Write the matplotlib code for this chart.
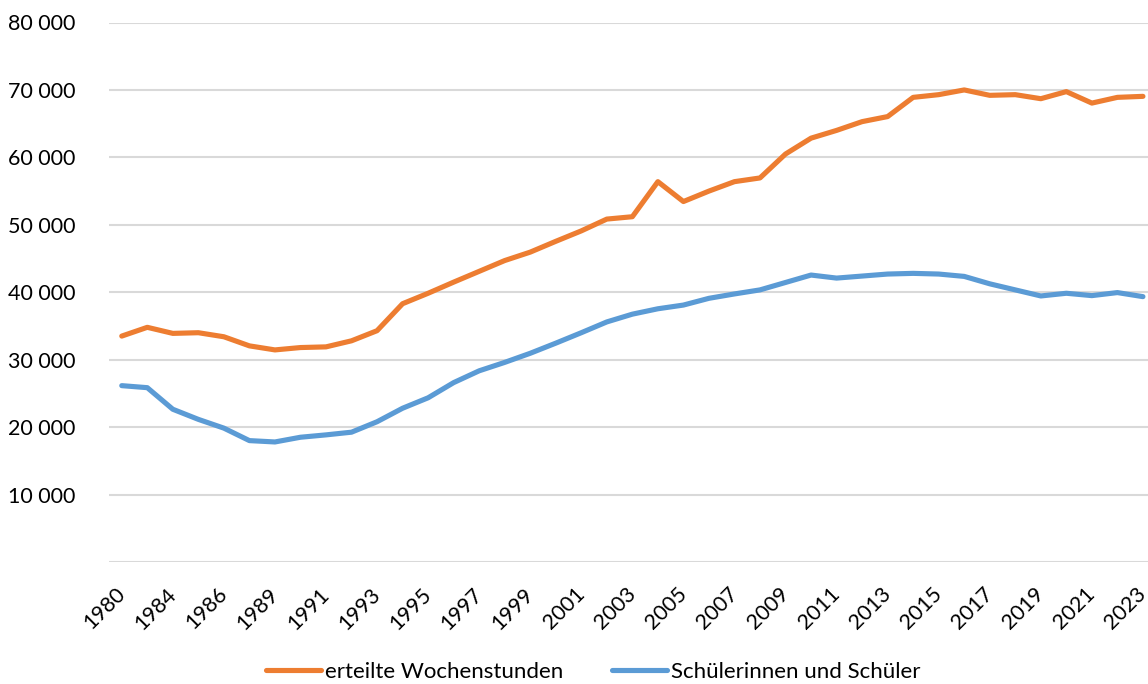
"""
Evolution des Wochenstunden und der Schuelerzahl, 1980-2023.
Liniendiagramm mit zwei Reihen, Legende unten.
"""
import matplotlib
matplotlib.use("Agg")
import matplotlib.pyplot as plt
import matplotlib.transforms as mtransforms
from matplotlib.ticker import FuncFormatter

plt.rcParams["font.family"] = ["Lato", "DejaVu Sans"]

# Jahre (Kategorien der x-Achse)
jahre = ["1980", "1982", "1984", "1985", "1986", "1988"] + [str(j) for j in range(1989, 2024)]

wochenstunden = [
    33500, 34800, 33900, 34000, 33400, 32050, 31450, 31800, 31900, 32800,
    34300, 38300, 39850, 41500, 43100, 44700, 45950, 47550, 49100, 50850,
    51200, 56400, 53450, 55000, 56400, 56950, 60500, 62850, 64000, 65300,
    66050, 68900, 69300, 70000, 69200, 69300, 68700, 69750, 68050, 68900,
    69050,
]

schueler = [
    26150, 25850, 22650, 21150, 19850, 18000, 17800, 18500, 18850, 19250,
    20800, 22800, 24350, 26600, 28350, 29600, 30950, 32450, 34000, 35600,
    36750, 37550, 38100, 39100, 39750, 40350, 41450, 42550, 42100, 42400,
    42700, 42800, 42700, 42350, 41250, 40350, 39450, 39850, 39500, 39950,
    39350,
]

ORANGE = "#ED7D31"
BLEU = "#5B9BD5"

fig = plt.figure(figsize=(11.48, 6.84), dpi=100)
# l'axe depasse un peu a droite, comme dans l'export d'origine
ax = fig.add_axes([109 / 1148, (684 - 562) / 684, (1155.7 - 109) / 1148, (562 - 22.5) / 684])

x = range(len(jahre))
ax.plot(x, wochenstunden, color=ORANGE, lw=3.7, solid_capstyle="round",
        solid_joinstyle="round", label="erteilte Wochenstunden", zorder=3)
ax.plot(x, schueler, color=BLEU, lw=3.7, solid_capstyle="round",
        solid_joinstyle="round", label="Schülerinnen und Schüler", zorder=3)

ax.set_xlim(-0.5, len(jahre) - 0.5)
ax.set_ylim(0, 80000)
ax.set_yticks(range(0, 80001, 10000))
ax.yaxis.set_major_formatter(FuncFormatter(
    lambda v, _: "" if v == 0 else f"{v:,.0f}".replace(",", " ")))
ax.yaxis.grid(True, color="#d9d9d9", lw=1.5)
ax.set_axisbelow(True)

ax.set_xticks(list(range(0, len(jahre), 2)))
ax.set_xticklabels(jahre[::2], rotation=45, ha="right", va="center",
                   rotation_mode="anchor")
decal = mtransforms.ScaledTranslation(-0.03, 0, fig.dpi_scale_trans)
for lab in ax.get_xticklabels():
    lab.set_transform(lab.get_transform() + decal)

ax.tick_params(axis="both", length=0, labelsize=15.5, colors="black")
ax.tick_params(axis="y", pad=24)
ax.tick_params(axis="x", pad=21)
for s in ax.spines.values():
    s.set_visible(False)

fig.legend(loc="center", bbox_to_anchor=(593 / 1148, 12 / 684), ncol=2,
           frameon=False, fontsize=16, handlelength=2.5, handletextpad=0.15,
           columnspacing=2.2, borderaxespad=0, borderpad=0)

fig.savefig("out.png", dpi=100)
plt.close(fig)
